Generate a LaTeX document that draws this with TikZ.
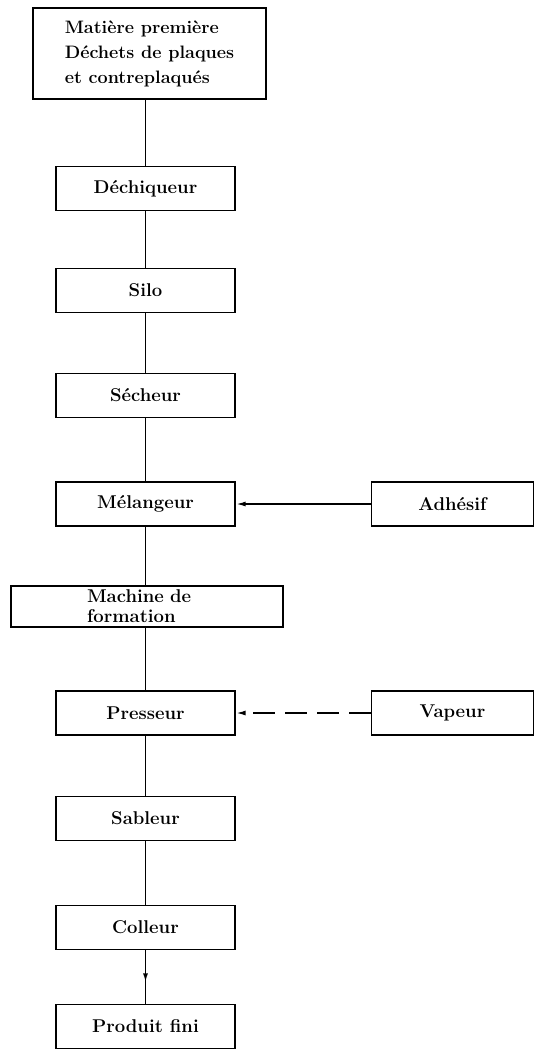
\documentclass[tikz,border=0pt]{standalone}
\usepackage{tikz}
\usetikzlibrary{
    arrows.meta,
    positioning,
    decorations.markings
}
\tikzset{
    stage/.style = {rectangle, draw, line width=1.4pt,
      minimum width=179pt, minimum height=44pt, inner sep=2pt,
      font=\fontsize{18.5}{25}\selectfont\bfseries}
  }
\tikzset{
    supply/.style = {stage, minimum width=162pt}
  }
\tikzset{
    flow/.style = {line width=1.7pt}
  }
\tikzset{
    midarrow/.style = {postaction={decorate},
      decoration={markings,
        mark=at position 0.6 with {\arrow{Latex[length=9pt,width=5pt]}}}}
  }

\begin{document}
\begin{tikzpicture}[x=1pt,y=-1pt]
\useasboundingbox (0,0) rectangle (541,1057);

\node[stage, minimum width=233pt, minimum height=91pt, align=left,
      font=\fontsize{18}{25}\selectfont\bfseries]
  at (149.5,53.5) (raw)
  {Matière première\\Déchets de plaques\\et contreplaqués};

\node[stage] at (145.5,188.5) (shredder) {Déchiqueur};
\node[stage] at (145.5,290.5) (silo) {Silo};
\node[stage] at (145.5,395.5) (dryer) {Sécheur};
\node[stage] at (145.5,504) (mixer) {Mélangeur};

\node[stage, minimum width=0pt, minimum height=41pt,
      text width=120pt, inner xsep=76pt, inner ysep=1pt, align=left,
      font=\fontsize{18.5}{20}\selectfont\bfseries]
  at (147,606.5) (former) {Machine de\\formation};

\node[stage] at (145.5,713) (press) {Presseur};
\node[stage] at (145.5,818.5) (sander) {Sableur};
\node[stage] at (145.5,927.5) (gluer) {Colleur};
\node[stage] at (145.5,1026.5) (product) {Produit fini};

\node[supply, right=135pt of mixer] (glue) {Adhésif};
\node[supply, right=135pt of press] (steam) {Vapeur};

% main line
\draw[flow] (raw.south -| shredder.north) -- (shredder.north);
\draw[flow] (shredder) -- (silo);
\draw[flow] (silo) -- (dryer);
\draw[flow] (dryer) -- (mixer);
\draw[flow] (mixer.south) -- (mixer.south |- former.north);
\draw[flow] (former.south -| press.north) -- (press.north);
\draw[flow] (press) -- (sander);
\draw[flow] (sander) -- (gluer);
\draw[flow, midarrow] (gluer) -- (product);

% side feeds
\draw[flow, -{Latex[length=10pt,width=5pt]}] (glue) -- (mixer);
\draw[flow, dash pattern=on 22pt off 10pt,
      -{Latex[length=10pt,width=5pt]}] (steam) -- (press);

\end{tikzpicture}
\end{document}
